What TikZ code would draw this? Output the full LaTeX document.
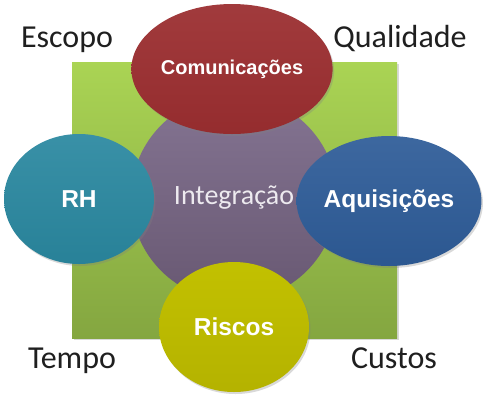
\documentclass[tikz,border=0pt]{standalone}
\usepackage{fontspec}
\setmainfont{Carlito}
\newfontfamily\rotulo{Liberation Sans}
\usetikzlibrary{shapes.geometric,shadows}

\definecolor{verdeclaro}{RGB}{170,212,84}
\definecolor{verdeescuro}{RGB}{132,166,64}
\definecolor{roxoclaro}{RGB}{132,116,146}
\definecolor{roxoescuro}{RGB}{104,88,114}
\definecolor{vermelho}{RGB}{155,46,48}
\definecolor{azulpetroleo}{RGB}{42,136,160}
\definecolor{azul}{RGB}{46,92,152}
\definecolor{amarelo}{RGB}{186,184,0}

\begin{document}
\begin{tikzpicture}[x=1pt,y=-1pt,
    area/.style={ellipse,minimum width=150pt,minimum height=130pt,inner sep=0pt,text=white,
      font=\rotulo\bfseries\fontsize{24.5}{24.5}\selectfont,
      drop shadow={opacity=0.3,shadow xshift=1.5pt,shadow yshift=-2pt}},
    canto/.style={anchor=base,text=black!88,font=\fontsize{32}{32}\selectfont}]
      \useasboundingbox (0,0) rectangle (500,400);
      % fundo
      \node[rectangle,minimum width=325pt,minimum height=276pt,inner sep=0pt,
        top color=verdeclaro,bottom color=verdeescuro,
        drop shadow={opacity=0.3,shadow xshift=2pt,shadow yshift=-2pt}](quadro) at (234.5,200){};
      \node[circle,minimum size=206pt,inner sep=0pt,top color=roxoclaro,bottom color=roxoescuro,
        text=white!85!roxoclaro,font=\fontsize{28}{28}\selectfont](integracao) at (234,198){Integração};
      % areas
      \node[area,top color=vermelho!94!white,bottom color=vermelho!96!black,
        font=\rotulo\bfseries\fontsize{20}{20}\selectfont](comunicacoes) at (232,69){Comunicações};
      \node[area,top color=azulpetroleo!93!white,bottom color=azulpetroleo!95!black](rh) at (79,199){RH};
      \node[area,top color=azul!93!white,bottom color=azul!95!black](aquisicoes) at (389,201){Aquisições};
      \node[area,top color=amarelo!88!yellow,bottom color=amarelo!97!black](riscos) at (234,327){Riscos};
      % cantos
      \node[canto](escopo) at (67,47){Escopo};
      \node[canto](qualidade) at (400,47){Qualidade};
      \node[canto](tempo) at (72,368){Tempo};
      \node[canto](custos) at (394,368){Custos};
\end{tikzpicture}
\end{document}
